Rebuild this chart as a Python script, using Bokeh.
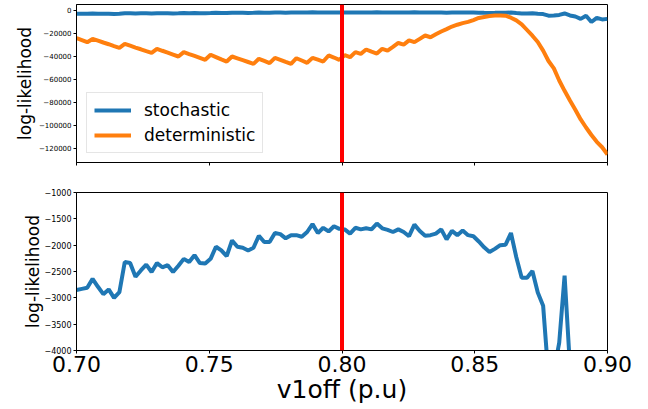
import numpy as np
from bokeh.plotting import figure
from bokeh.models import Range1d, Span, FixedTicker, CustomJSTickFormatter, PrintfTickFormatter
from bokeh.layouts import column
from bokeh.embed import file_html
from bokeh.resources import INLINE

# ---------------- data ----------------
x_start, x_end, n_points = 0.70, 0.90, 100
v1off = np.linspace(x_start, x_end, n_points)

stochastic = [
    -2850, -2830, -2810, -2640, -2790, -2930, -2840, -3000, -2890, -2320,
    -2340, -2600, -2480, -2370, -2510, -2340, -2420, -2380, -2510, -2390,
    -2260, -2320, -2190, -2340, -2350, -2260, -2030, -2100, -2210, -1910,
    -2030, -2050, -2100, -2050, -1820, -1940, -1940, -1770, -1790, -1870,
    -1810, -1810, -1840, -1750, -1600, -1770, -1670, -1740, -1640, -1690,
    -1700, -1780, -1670, -1700, -1680, -1700, -1590, -1680, -1710, -1750,
    -1700, -1750, -1830, -1610, -1730, -1820, -1810, -1780, -1700, -1890,
    -1730, -1810, -1720, -1810, -1830, -1930, -2040, -2130, -2070, -2000,
    -1990, -1770, -2230, -2620, -2620, -2490, -2900, -3150, -4500, -4400,
    -3850, -2580, -4300, -5200, -7300, -4600, -10000, -6400, -7800, -7300,
]

deterministic = [
    -24000, -25800, -27600, -24800, -26300, -27900, -29400, -31000, -32500, -29100,
    -30700, -32300, -33800, -35400, -36900, -33400, -35100, -36700, -38400, -40100,
    -36300, -38000, -39600, -41300, -43000, -38600, -40600, -42600, -44500, -40100,
    -41700, -43300, -44900, -46500, -42100, -44000, -45900, -41300, -43000, -44800,
    -46500, -41600, -43600, -45600, -41300, -42900, -44500, -39200, -41000, -43000,
    -39000, -40700, -36300, -37800, -34000, -35900, -37500, -33400, -34900, -31700,
    -28300, -29700, -26100, -27600, -24700, -21800, -23300, -20700, -18300, -16200,
    -14000, -12400, -11000, -9900, -8300, -6500, -5600, -4800, -4400, -4300,
    -4500, -6300, -8600, -12000, -17000, -22000, -27500, -35000, -44000, -50500,
    -61000, -70000, -78500, -86500, -95000, -102000, -108500, -114500, -119200, -125500,
]

true_v1off = 0.80

x_ticks = [0.70, 0.75, 0.80, 0.85, 0.90]
top_y_ticks = [0, -20000, -40000, -60000, -80000, -100000, -120000]
bottom_y_ticks = [-1000, -1500, -2000, -2500, -3000, -3500, -4000]

top_y_limits = (-132500, 5230)
bottom_y_limits = (-4000, -1000)

# ---------------- styling ----------------
FONT = "DejaVu Sans"
BLUE = "#1f77b4"
ORANGE = "#ff7f0e"
W = 648

minus_fmt = CustomJSTickFormatter(
    code="return tick < 0 ? '\\u2212' + Math.abs(tick) : String(tick);")
blank_fmt = CustomJSTickFormatter(code="return '';")

x_range = Range1d(x_start, x_end)


def style(p, yticks, ytick_size, ylabel_standoff):
    p.grid.grid_line_color = None
    p.outline_line_color = "black"
    p.outline_line_width = 1
    p.outline_line_alpha = 1
    p.background_fill_color = "white"
    p.border_fill_color = "white"
    for ax in (p.xaxis[0], p.yaxis[0]):
        ax.axis_line_color = "black"
        ax.axis_line_width = 1
        ax.major_tick_line_color = "black"
        ax.major_tick_line_width = 1
        ax.major_tick_out = 3
        ax.major_tick_in = 0
        ax.minor_tick_line_color = None
        ax.major_label_text_color = "black"
        ax.major_label_text_font = FONT
        ax.axis_label_text_font = FONT
        ax.axis_label_text_color = "black"
        ax.axis_label_text_font_style = "normal"
    p.xaxis.ticker = FixedTicker(ticks=x_ticks)
    p.yaxis.ticker = FixedTicker(ticks=yticks)
    p.yaxis.formatter = minus_fmt
    p.yaxis.major_label_text_font_size = ytick_size
    p.yaxis.major_label_standoff = 2
    p.yaxis.axis_label = "log-likelihood"
    p.yaxis.axis_label_text_font_size = "17px"
    p.yaxis.axis_label_standoff = ylabel_standoff


# top plot
p1 = figure(width=W, height=177, x_range=x_range, y_range=Range1d(*top_y_limits),
            output_backend="svg", toolbar_location=None,
            min_border_left=76, min_border_right=41, min_border_top=4, min_border_bottom=15)
style(p1, top_y_ticks, "7px", 1)
p1.xaxis.formatter = blank_fmt
p1.xaxis.major_label_text_font_size = "8px"
p1.xaxis.major_label_standoff = 0

p1.line(v1off, stochastic, line_color=BLUE, line_width=4, legend_label="stochastic")
p1.line(v1off, deterministic, line_color=ORANGE, line_width=4, legend_label="deterministic")
p1.add_layout(Span(location=true_v1off, dimension="height", line_color="red", line_width=4))

lg = p1.legend[0]
lg.location = (10, 9)
lg.label_text_font = FONT
lg.label_text_font_size = "17px"
lg.label_text_color = "black"
lg.glyph_width = 37
lg.glyph_height = 20
lg.label_height = 20
lg.label_standoff = 13
lg.spacing = 5
lg.padding = 7
lg.margin = 0
lg.border_line_color = "#cccccc"
lg.border_line_width = 1
lg.background_fill_alpha = 0.8

# bottom plot
p2 = figure(width=W, height=232, x_range=x_range, y_range=Range1d(*bottom_y_limits),
            output_backend="svg", toolbar_location=None,
            min_border_left=76, min_border_right=41, min_border_top=15, min_border_bottom=59)
style(p2, bottom_y_ticks, "8px", -2)
p2.xaxis.formatter = PrintfTickFormatter(format="%.2f")
p2.xaxis.major_label_text_font_size = "22px"
p2.xaxis.major_label_standoff = 2
p2.xaxis.axis_label = "v1off (p.u)"
p2.xaxis.axis_label_text_font_size = "25px"
p2.xaxis.axis_label_standoff = 0

p2.line(v1off, stochastic, line_color=BLUE, line_width=4)
p2.add_layout(Span(location=true_v1off, dimension="height", line_color="red", line_width=4))

layout = column(p1, p2, spacing=0)
open("out.html", "w").write(file_html(layout, INLINE))
